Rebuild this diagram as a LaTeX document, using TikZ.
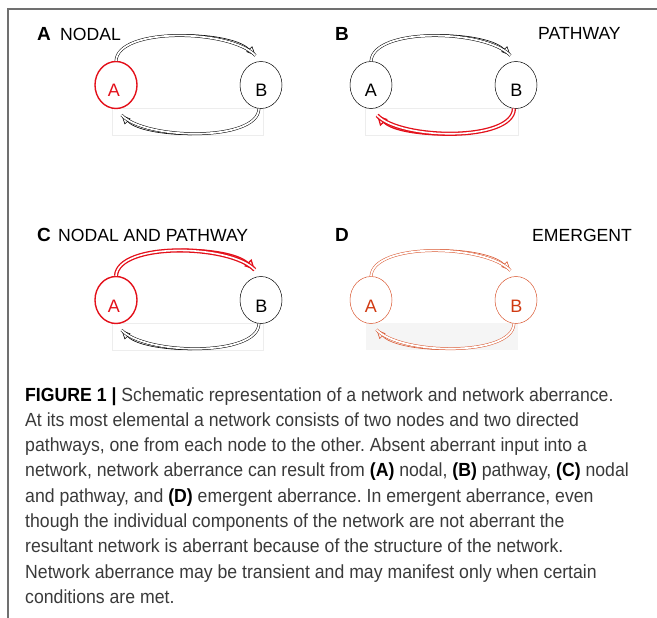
\documentclass[tikz,border=0pt]{standalone}
\usepackage{fontspec}
\setmainfont{Liberation Sans}
\newfontfamily\capfont[FakeStretch=0.93]{Liberation Sans}
\usetikzlibrary{shapes.geometric,arrows.meta}
\definecolor{aberr}{HTML}{E3101A}
\definecolor{emerg}{HTML}{D9562F}
\definecolor{emergtxt}{HTML}{D03A12}
\definecolor{captxt}{HTML}{3A3A3A}
\definecolor{framegray}{HTML}{707070}
\frenchspacing
\tikzset{
  x=1pt, y=-1pt,
  nodebox/.style={ellipse, draw=#1, line width=0.5pt, minimum width=42pt,
    minimum height=47pt, inner sep=0pt},
  nodetext/.style={font=\fontsize{18}{18}\selectfont, text=#1, anchor=base, inner sep=0pt},
  paneltag/.style={font=\bfseries\fontsize{19}{19}\selectfont, anchor=base west, inner sep=0pt},
  paneltitle/.style={font=\fontsize{17.6}{17.6}\selectfont, anchor=base west, inner sep=0pt},
  capline/.style={font=\capfont\fontsize{19}{22}\selectfont\frenchspacing, text=captxt, anchor=base west, inner sep=0pt},
  % thin hollow pathway arrow
  conn/.style={preaction={draw=#1, line width=0.6pt, -{Triangle[open,length=9pt,width=8pt]}},
    draw=#1, line width=0.5pt, double=white, double distance=1.8pt, shorten >=8pt},
  % heavy aberrant pathway arrow
  connhot/.style={preaction={draw=aberr, line width=1.3pt, -{Triangle[open,length=10pt,width=10pt]}},
    draw=aberr, line width=1.3pt, double=white, double distance=1.6pt, shorten >=9pt},
  shadebox/.style={draw=black!7, line width=0.4pt},
}
\begin{document}
\begin{tikzpicture}
\useasboundingbox (0,0) rectangle (657,618);
% frame
\draw[framegray, line width=1.2pt] (8,618) -- (8,9) -- (657,9);

% ---- A: nodal ----
\draw[shadebox] (112,108) rectangle (263,135);
\node[nodebox=aberr, line width=1.4pt] (aA) at (116,85) {};
\node[nodebox=black] (bA) at (261,85) {};
\node[nodetext=aberr] (taA) at (114,97) {A};
\node[nodetext=black] (tbA) at (261.5,97) {B};
\draw[conn=black] (aA.north) .. controls (118,27) and (230,29) .. (bA.north);
\draw[conn=black] (bA.265) .. controls (258,142) and (145,140) .. (aA.south);
\node[paneltag] (lA) at (37,41) {A};
\node[paneltitle] (nA) at (60,41) {NODAL};

% ---- B: pathway ----
\begin{scope}[shift={(255,0)}]
\draw[shadebox] (110,108) rectangle (263,135);
\node[nodebox=black] (aB) at (116,85) {};
\node[nodebox=black] (bB) at (261,85) {};
\node[nodetext=black] (taB) at (116,97) {A};
\node[nodetext=black] (tbB) at (261.5,97) {B};
\draw[conn=black] (aB.north) .. controls (118,27) and (230,29) .. (bB.north);
\draw[connhot] (bB.265) .. controls (258,142) and (145,140) .. (aB.south);
\end{scope}
\node[paneltag] (lB) at (335,41) {B};
\node[paneltitle] (nB) at (538,40) {PATHWAY};

% ---- C: nodal and pathway ----
\begin{scope}[shift={(0,215)}]
\draw[shadebox] (112,108) rectangle (263,135);
\node[nodebox=aberr, line width=1.4pt] (aC) at (116,85) {};
\node[nodebox=black] (bC) at (261,85) {};
\node[nodetext=aberr] (taC) at (114,97) {A};
\node[nodetext=black] (tbC) at (261.5,97) {B};
\draw[connhot] (aC.north) .. controls (118,27) and (230,29) .. (bC.north);
\draw[conn=black] (bC.265) .. controls (258,142) and (145,140) .. (aC.south);
\end{scope}
\node[paneltag] (lC) at (37,241) {C};
\node[paneltitle] (nC) at (58,241) {NODAL AND PATHWAY};

% ---- D: emergent ----
\begin{scope}[shift={(255,215)}]
\fill[black!4] (111,108) rectangle (263,135);
\node[nodebox=emerg] (aD) at (116,85) {};
\node[nodebox=emerg] (bD) at (261,85) {};
\node[nodetext=emergtxt] (taD) at (116,97) {A};
\node[nodetext=emergtxt] (tbD) at (261.5,97) {B};
\draw[conn=emerg] (aD.north) .. controls (118,27) and (230,29) .. (bD.north);
\draw[conn=emerg] (bD.265) .. controls (258,142) and (145,140) .. (aD.south);
\end{scope}
\node[paneltag] (lD) at (335,241) {D};
\node[paneltitle] (nD) at (532,241) {EMERGENT};

% ---- caption ----
\node[capline] (c1) at (25,401) {\textbf{\color{black}FIGURE 1 |} Schematic representation of a network and network aberrance.};
\node[capline] (c2) at (25,426.3) {At its most elemental a network consists of two nodes and two directed};
\node[capline] (c3) at (25,451.6) {pathways, one from each node to the other. Absent aberrant input into a};
\node[capline] (c4) at (25,476.9) {network, network aberrance can result from \textbf{\color{black}(A)} nodal, \textbf{\color{black}(B)} pathway, \textbf{\color{black}(C)} nodal};
\node[capline] (c5) at (25,502.2) {and pathway, and \textbf{\color{black}(D)} emergent aberrance. In emergent aberrance, even};
\node[capline] (c6) at (25,527.5) {though the individual components of the network are not aberrant the};
\node[capline] (c7) at (25,552.8) {resultant network is aberrant because of the structure of the network.};
\node[capline] (c8) at (25,578.1) {Network aberrance may be transient and may manifest only when certain};
\node[capline] (c9) at (25,603.4) {conditions are met.};
\end{tikzpicture}
\end{document}
